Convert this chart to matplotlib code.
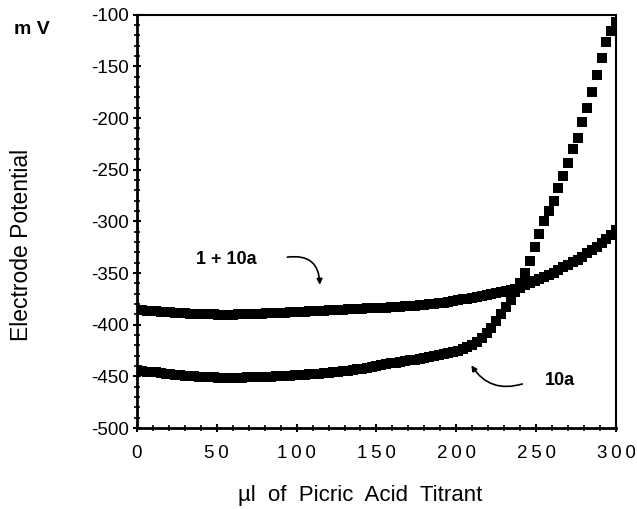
import numpy as np
import matplotlib
matplotlib.use("Agg")
import matplotlib.pyplot as plt
from matplotlib.ticker import MultipleLocator, FuncFormatter

plt.rcParams['font.family'] = ['Liberation Sans', 'DejaVu Sans']
plt.rcParams['axes.unicode_minus'] = False

# titrant volume (ul), one reading every 3 ul
volume = np.arange(0, 301, 3)

# electrode potential (mV)
pot_10a = [
    -444, -445, -445.5, -446, -446, -447, -447.5, -448, -448.5, -449,
    -449.5, -450, -450, -450.5, -451, -451, -451, -451.5, -451.5, -451.5,
    -451.5, -451.5, -451.5, -451, -451, -451, -451, -450.5, -450.5, -450,
    -450, -450, -449.5, -449, -449, -448.5, -448, -448, -447.5, -447,
    -446.5, -446, -445.5, -445, -444.5, -444, -443, -442.5, -442, -441,
    -440, -439, -438, -437.5, -437, -436, -435, -434.5, -434, -433,
    -432, -431, -430, -429, -428, -427, -426, -425, -423.5, -422,
    -420, -417, -413, -408, -403, -396, -390, -383, -376, -368,
    -360, -350, -338, -325, -312, -300, -290, -280, -268, -256,
    -243, -230, -219, -204, -190, -175, -158, -142, -126, -116,
    -107,
]

pot_1_10a = [
    -385.5, -386, -386.5, -387, -387, -387.5, -388, -388, -388.5, -389,
    -389, -389.5, -389.5, -390, -390, -390, -390, -390.5, -390.5, -390.5,
    -390.5, -390, -390, -390, -389.5, -389.5, -389.5, -389, -389, -389,
    -388.5, -388.5, -388, -388, -387.5, -387.5, -387, -387, -386.5, -386.5,
    -386, -386, -385.5, -385.5, -385, -385, -384.5, -384.5, -384, -384,
    -384, -383.5, -383.5, -383, -383, -382.5, -382, -382, -381.5, -381,
    -380.5, -380, -379.5, -379, -378.5, -378, -377, -376.5, -375.5, -375,
    -374, -373, -372, -371, -370, -369, -368, -367, -366.5, -365.5,
    -364, -362, -360, -358, -356, -354, -352, -349.5, -347, -344.5,
    -342, -339.5, -337, -334, -331, -328, -325, -321, -317, -313,
    -308,
]

fig = plt.figure(figsize=(6.37, 5.09), dpi=100)
ax = fig.add_axes([0.215, 0.159, 0.752, 0.812])

ax.plot(volume, pot_1_10a, 's', color='black', markersize=7, markeredgewidth=0)
ax.plot(volume, pot_10a, 's', color='black', markersize=7, markeredgewidth=0)

ax.set_xlim(0, 300)
ax.set_ylim(-500, -100)
ax.xaxis.set_major_locator(MultipleLocator(50))
ax.xaxis.set_minor_locator(MultipleLocator(10))
ax.yaxis.set_major_locator(MultipleLocator(50))
ax.yaxis.set_minor_locator(MultipleLocator(10))
# spread the x digits apart like the original typesetting
ax.xaxis.set_major_formatter(FuncFormatter(lambda v, p: '\u2009'.join(str(int(v)))))
ax.tick_params(which='major', direction='inout', length=6, width=1.5,
               top=False, right=False, labelsize=13.5)
ax.tick_params(which='minor', direction='inout', length=4, width=1.2,
               top=False, right=False)
ax.tick_params(axis='x', which='major', pad=9)
ax.tick_params(axis='y', which='major', pad=3)
for side in ['left', 'bottom']:
    ax.spines[side].set_linewidth(2)
for side in ['top', 'right']:
    ax.spines[side].set_linewidth(1.5)

fig.text(22 / 637, 1 - 245 / 509, 'Electrode Potential', fontsize=16.5,
         rotation=90, ha='center', va='center')
fig.text(360 / 637, 1 - 495 / 509, '\u00b5l  of  Picric  Acid  Titrant',
         fontsize=16, ha='center', va='center')
fig.text(32 / 637, 1 - 29 / 509, 'm V', fontsize=14, fontweight='bold',
         ha='center', va='center')

ax.text(56, -337, '1 + 10a', fontsize=13, fontweight='bold', ha='center', va='center')
ax.annotate('', xy=(114.5, -364), xytext=(92.5, -335),
            arrowprops=dict(arrowstyle='-|>', color='black', lw=1.2,
                            mutation_scale=8, connectionstyle='arc3,rad=-0.6'))

ax.text(265, -453.5, '10a', fontsize=13, fontweight='bold', ha='center', va='center')
ax.annotate('', xy=(208.5, -437), xytext=(243, -456.5),
            arrowprops=dict(arrowstyle='-|>', color='black', lw=1.2,
                            mutation_scale=8, connectionstyle='arc3,rad=-0.4'))

fig.savefig('out.png', dpi=100)
